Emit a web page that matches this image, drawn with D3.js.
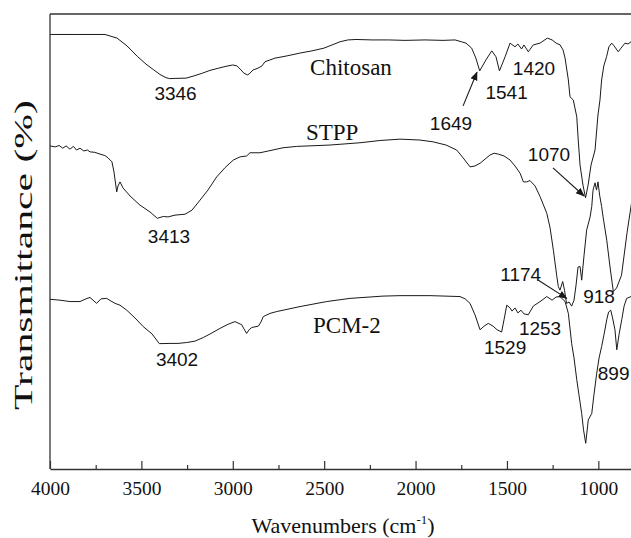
<!DOCTYPE html>
<html>
<head>
<meta charset="utf-8">
<script src="https://cdn.jsdelivr.net/npm/d3@7"></script>
<style>
  html, body { margin: 0; padding: 0; background: #fff; }
  svg { display: block; }
</style>
</head>
<body>
<svg id="chart" width="631" height="538"></svg>
<script>
// FTIR spectra: [wavenumber (cm-1), transmittance (a.u.)]
const chitosan = [
  [4000,95.5],[3836,95.5],[3699,95.5],[3633,94.7],[3579,93.0],[3520,90.6],[3475,89.0],
  [3432,87.7],[3398,86.7],[3365,86.0],[3346,85.8],[3311,85.85],[3256,85.9],[3212,86.4],
  [3166,87.0],[3125,87.6],[3078,88.1],[3037,88.5],[3000,88.8],[2977,88.6],[2955,87.7],
  [2939,87.0],[2918,86.6],[2906,87.0],[2889,87.7],[2862,88.1],[2840,88.6],[2824,89.5],
  [2769,90.3],[2703,90.8],[2634,91.4],[2566,91.9],[2501,92.5],[2457,93.2],[2413,93.9],
  [2370,94.3],[2326,94.4],[2238,94.3],[2147,94.3],[2058,94.2],[1948,94.3],[1850,94.2],
  [1784,94.3],[1749,93.9],[1724,93.6],[1693,92.5],[1670,90.3],[1649,87.5],[1615,89.9],
  [1583,91.9],[1560,90.6],[1541,87.5],[1510,90.6],[1483,93.6],[1456,92.8],[1440,93.4],
  [1420,92.3],[1407,93.2],[1383,91.7],[1356,93.2],[1319,93.6],[1279,94.7],[1253,94.3],
  [1231,93.6],[1209,93.2],[1193,92.1],[1182,90.3],[1164,85.5],[1155,81.8],[1137,81.1],
  [1118,77.4],[1110,72.3],[1100,66.8],[1084,62.4],[1070,59.6],[1056,62.4],[1040,66.8],
  [1018,70.1],[1002,77.8],[991,81.1],[982,85.5],[970,88.6],[955,90.6],[942,92.8],
  [927,93.6],[914,93.0],[891,91.7],[876,92.5],[854,93.6],[838,93.4],[821,93.9],[772,94.3]
];

const stpp = [
  [4000,71.0],[3972,70.8],[3950,71.1],[3930,70.5],[3912,71.0],[3891,70.3],[3872,70.9],
  [3855,70.1],[3836,70.5],[3815,69.9],[3795,70.1],[3781,69.7],[3755,69.6],[3726,69.2],
  [3700,68.9],[3683,68.4],[3661,67.5],[3650,65.3],[3635,60.9],[3628,62.2],[3617,63.1],
  [3601,61.8],[3562,60.0],[3508,58.0],[3453,56.5],[3413,55.1],[3380,55.5],[3354,55.4],
  [3316,55.8],[3261,56.0],[3223,56.9],[3179,59.1],[3136,61.3],[3088,64.2],[3043,66.2],
  [2997,67.9],[2960,68.6],[2924,68.8],[2906,69.5],[2851,69.5],[2725,70.6],[2650,70.9],
  [2468,71.2],[2304,71.7],[2194,72.2],[2085,72.5],[1976,72.3],[1904,71.9],[1833,71.2],
  [1775,70.1],[1740,68.4],[1702,66.4],[1675,66.6],[1647,67.2],[1593,69.0],[1570,69.4],
  [1547,69.2],[1516,68.8],[1483,67.9],[1456,66.6],[1428,65.0],[1410,63.1],[1392,63.1],
  [1374,63.4],[1346,62.2],[1319,59.9],[1282,56.2],[1264,53.0],[1246,48.1],[1228,42.6],
  [1219,40.1],[1210,39.3],[1195,41.2],[1185,39.3],[1174,36.4],[1160,36.7],[1146,35.8],
  [1133,37.1],[1122,40.4],[1111,44.4],[1100,44.5],[1091,41.5],[1078,47.0],[1064,52.5],
  [1045,55.4],[1036,57.7],[1029,61.3],[1018,62.9],[1010,61.3],[1002,63.1],[993,60.2],
  [982,57.7],[974,55.4],[954,50.3],[936,44.4],[918,39.0],[900,39.8],[873,42.6],
  [843,51.9],[816,59.1],[794,63.5]
];

const pcm2 = [
  [4000,37.3],[3945,37.1],[3891,36.8],[3836,36.8],[3803,37.4],[3781,37.7],[3745,36.4],
  [3721,37.4],[3690,37.5],[3666,36.9],[3644,36.4],[3617,36.0],[3580,34.9],[3535,33.2],
  [3490,31.3],[3442,29.7],[3402,27.55],[3343,27.6],[3300,27.6],[3252,27.8],[3207,28.1],
  [3161,28.9],[3114,29.9],[3070,30.9],[3026,31.8],[2988,32.4],[2951,31.7],[2939,30.8],
  [2924,29.8],[2911,30.6],[2896,31.1],[2860,31.4],[2846,32.3],[2833,33.5],[2796,34.2],
  [2760,34.6],[2632,35.7],[2486,36.8],[2359,37.5],[2178,38.0],[2085,38.1],[1921,38.1],
  [1757,37.9],[1729,37.4],[1702,36.4],[1675,33.9],[1647,30.6],[1625,31.4],[1602,32.0],
  [1576,31.4],[1554,30.6],[1529,30.1],[1516,32.8],[1501,36.0],[1483,35.4],[1472,34.7],
  [1456,35.4],[1440,34.3],[1423,34.9],[1407,34.1],[1383,33.9],[1356,35.8],[1330,36.5],
  [1308,37.1],[1282,37.9],[1253,37.1],[1231,37.8],[1210,37.9],[1182,36.8],[1164,34.2],
  [1146,27.6],[1133,24.4],[1118,19.6],[1106,16.3],[1091,12.2],[1081,8.6],[1069,5.65],
  [1055,10.8],[1036,12.2],[1024,16.3],[1009,21.0],[996,24.4],[982,26.9],[969,29.5],
  [954,32.8],[944,34.5],[932,34.9],[922,33.2],[909,30.6],[899,26.2],[887,29.5],
  [872,32.8],[859,35.8],[845,37.5],[821,37.9],[772,38.0]
];

// Sample names and their label anchors [wavenumber, transmittance]
const sampleNames = ["Chitosan", "STPP", "PCM-2"];
const sampleLabelPos = [[2577, 86.6], [2600, 72.3], [2561, 29.9]];

// Peak annotations: text, text anchor [wavenumber, transmittance], optional arrow
const peakLabels = [
  { text: "3346", at: [3313, 81.1] },
  { text: "1649", at: [1806, 74.6], arrow: [[1740, 79.8], [1664, 87.2]] },
  { text: "1541", at: [1502, 81.3] },
  { text: "1420", at: [1352, 86.6] },
  { text: "1070", at: [1270, 67.6], arrow: [[1248, 66.2], [1078, 60.0]] },
  { text: "3413", at: [3349, 49.7] },
  { text: "1174", at: [1425, 41.3], arrow: [[1328, 41.5], [1173, 37.5]] },
  { text: "918",  at: [996, 36.4] },
  { text: "1253", at: [1319, 29.5] },
  { text: "1529", at: [1510, 25.3] },
  { text: "899",  at: [1003, 19.6], anchor: "start" },
  { text: "3402", at: [3305, 22.6] }
];

const xTicks = [4000, 3500, 3000, 2500, 2000, 1500, 1000];
const xMinorTicks = [3750, 3250, 2750, 2250, 1750, 1250];

const svg = d3.select("#chart");
const plotLeft = 50, plotTop = 14, plotBottom = 469, plotRight = 708;

const x = d3.scaleLinear().domain([4000, 400]).range([plotLeft, plotRight]);
const y = d3.scaleLinear().domain([0, 100]).range([plotBottom, plotTop]);

const ink = "#1a1a1a";

const defs = svg.append("defs");
defs.append("clipPath").attr("id", "plotClip")
  .append("rect").attr("x", plotLeft).attr("y", plotTop)
  .attr("width", plotRight - plotLeft).attr("height", plotBottom - plotTop);

defs.append("marker")
  .attr("id", "arrowHead").attr("viewBox", "0 0 10 10")
  .attr("refX", 9).attr("refY", 5)
  .attr("markerWidth", 9).attr("markerHeight", 9)
  .attr("markerUnits", "userSpaceOnUse")
  .attr("orient", "auto")
  .append("path").attr("d", "M0,1 L10,5 L0,9 Z").attr("fill", ink);

// Spectra
const line = d3.line().x(d => x(d[0])).y(d => y(d[1])).curve(d3.curveLinear);
const plot = svg.append("g").attr("clip-path", "url(#plotClip)");
[chitosan, stpp, pcm2].forEach(series => {
  plot.append("path")
    .datum(series)
    .attr("d", line)
    .attr("fill", "none")
    .attr("stroke", ink)
    .attr("stroke-width", 1)
    .attr("stroke-linejoin", "round");
});

// Frame: left and top edges
svg.append("line").attr("x1", plotLeft).attr("x2", plotLeft).attr("y1", plotTop).attr("y2", plotBottom)
  .attr("stroke", "#333").attr("stroke-width", 1.3);
svg.append("line").attr("x1", plotLeft).attr("x2", plotRight).attr("y1", plotTop).attr("y2", plotTop)
  .attr("stroke", "#333").attr("stroke-width", 1.3);

// Bottom axis with inward ticks
const xAxis = d3.axisBottom(x).tickValues(xTicks).tickSizeInner(-8).tickSizeOuter(0).tickPadding(12)
  .tickFormat(d3.format("d"));
const gx = svg.append("g").attr("transform", `translate(0,${plotBottom})`).call(xAxis);
gx.select(".domain").attr("stroke", "#333").attr("stroke-width", 1.3);
gx.selectAll(".tick line").attr("stroke", "#333").attr("stroke-width", 1.2);
gx.selectAll(".tick text")
  .attr("font-family", "'Liberation Serif', 'Times New Roman', serif")
  .attr("font-size", 19.5).attr("fill", "#111").attr("dy", "0.71em");

const xMinor = d3.axisBottom(x).tickValues(xMinorTicks).tickSizeInner(-4).tickSizeOuter(0).tickFormat("");
const gm = svg.append("g").attr("transform", `translate(0,${plotBottom})`).call(xMinor);
gm.select(".domain").remove();
gm.selectAll(".tick line").attr("stroke", "#333").attr("stroke-width", 1.2);

// Axis titles
const xt = svg.append("text")
  .attr("x", 343).attr("y", 533)
  .attr("text-anchor", "middle")
  .attr("font-family", "'Liberation Serif', 'Times New Roman', serif")
  .attr("font-size", 22).attr("fill", "#111");
xt.append("tspan").text("Wavenumbers (cm");
xt.append("tspan").attr("font-size", 13).attr("dy", -9).text("-1");
xt.append("tspan").attr("dy", 9).text(")");

svg.append("text")
  .attr("transform", "translate(32,255) rotate(-90)")
  .attr("text-anchor", "middle")
  .attr("font-family", "'Liberation Serif', 'Times New Roman', serif")
  .attr("font-size", 26).attr("fill", "#111")
  .attr("textLength", 310).attr("lengthAdjust", "spacingAndGlyphs")
  .text("Transmittance (%)");

// Sample names
sampleNames.forEach((name, i) => {
  svg.append("text")
    .attr("x", x(sampleLabelPos[i][0])).attr("y", y(sampleLabelPos[i][1]))
    .attr("font-family", "'Liberation Serif', 'Times New Roman', serif")
    .attr("font-size", 23).attr("fill", "#111")
    .text(name);
});

// Peak annotations
peakLabels.forEach(p => {
  svg.append("text")
    .attr("x", x(p.at[0])).attr("y", y(p.at[1]))
    .attr("text-anchor", p.anchor || "middle")
    .attr("font-family", "'Liberation Sans', Arial, sans-serif")
    .attr("font-size", 19).attr("fill", "#111")
    .text(p.text);
  if (p.arrow) {
    svg.append("line")
      .attr("x1", x(p.arrow[0][0])).attr("y1", y(p.arrow[0][1]))
      .attr("x2", x(p.arrow[1][0])).attr("y2", y(p.arrow[1][1]))
      .attr("stroke", ink).attr("stroke-width", 1.1)
      .attr("marker-end", "url(#arrowHead)");
  }
});
</script>
</body>
</html>
